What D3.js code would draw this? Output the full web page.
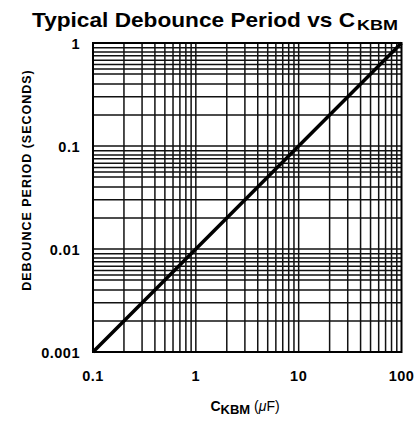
<!DOCTYPE html>
<html>
<head>
<meta charset="utf-8">
<script src="https://cdn.jsdelivr.net/npm/d3@7"></script>
<style>
  body { margin: 0; background: #fff; }
  svg { display: block; }
  text { font-family: "Liberation Sans", Arial, sans-serif; font-weight: bold; fill: #000; }
</style>
</head>
<body>
<div id="chart"></div>
<script>
// debounce line (capacitance in uF, period in s)
const capacitance = [0.1, 1, 10, 100];
const period = [0.001, 0.01, 0.1, 1];

const xTicks = [0.1, 1, 10, 100];
const xTickLabels = ["0.1", "1", "10", "100"];
const yTicks = [0.001, 0.01, 0.1, 1];
const yTickLabels = ["0.001", "0.01", "0.1", "1"];

// grid multipliers inside each decade
const xGridMult = [1, 2, 3, 4, 5, 6, 7, 8, 9];
const yGridMult = [1, 2, 3, 4, 5, 5.6, 6.2, 6.8, 7.5, 8.2, 9];

const width = 418, height = 423;
const margin = { top: 43, right: 16.5, bottom: 71, left: 93 };

const svg = d3.select("#chart")
    .append("svg")
    .attr("width", width)
    .attr("height", height);

const x = d3.scaleLog()
    .domain([0.1, 100])
    .range([margin.left, width - margin.right]);

const y = d3.scaleLog()
    .domain([0.001, 1])
    .range([height - margin.bottom, margin.top]);

// grid values built from decades x multipliers
const xGrid = [];
[0.1, 1, 10].forEach(d => xGridMult.forEach(m => xGrid.push(d * m)));
const yGrid = [];
[0.001, 0.01, 0.1].forEach(d => yGridMult.forEach(m => yGrid.push(d * m)));

const grid = svg.append("g");

grid.selectAll(".vgrid")
    .data(xGrid)
    .enter()
    .append("line")
    .attr("x1", d => x(d))
    .attr("x2", d => x(d))
    .attr("y1", y(1))
    .attr("y2", y(0.001))
    .attr("stroke", "#111")
    .attr("stroke-width", 1.5);

grid.selectAll(".hgrid")
    .data(yGrid)
    .enter()
    .append("line")
    .attr("x1", x(0.1))
    .attr("x2", x(100))
    .attr("y1", d => y(d))
    .attr("y2", d => y(d))
    .attr("stroke", "#111")
    .attr("stroke-width", 1.5);

// frame
svg.append("rect")
    .attr("x", x(0.1))
    .attr("y", y(1))
    .attr("width", x(100) - x(0.1))
    .attr("height", y(0.001) - y(1))
    .attr("fill", "none")
    .attr("stroke", "#000")
    .attr("stroke-width", 2);

// data line
const line = d3.line()
    .x((d, i) => x(capacitance[i]))
    .y(d => y(d));

svg.append("path")
    .datum(period)
    .attr("d", line)
    .attr("fill", "none")
    .attr("stroke", "#000")
    .attr("stroke-width", 3.5);

// tick labels
svg.selectAll(".xlab")
    .data(xTicks)
    .enter()
    .append("text")
    .attr("x", d => x(d))
    .attr("y", 381)
    .attr("text-anchor", "middle")
    .style("font-size", "14.5px")
    .style("letter-spacing", "0.5px")
    .text((d, i) => xTickLabels[i]);

svg.selectAll(".ylab")
    .data(yTicks)
    .enter()
    .append("text")
    .attr("x", 80)
    .attr("y", d => y(d) + 5.5)
    .attr("text-anchor", "end")
    .style("font-size", "14.5px")
    .style("letter-spacing", "0.5px")
    .text((d, i) => yTickLabels[i]);

// title
svg.append("text")
    .attr("x", 32)
    .attr("y", 27)
    .attr("textLength", 323)
    .attr("lengthAdjust", "spacingAndGlyphs")
    .style("font-size", "20.5px")
    .text("Typical Debounce Period vs C");
svg.append("text")
    .attr("x", 357)
    .attr("y", 30)
    .attr("textLength", 41)
    .attr("lengthAdjust", "spacingAndGlyphs")
    .style("font-size", "14px")
    .text("KBM");

// x axis title
const xt = svg.append("text")
    .attr("x", 245)
    .attr("y", 411)
    .attr("text-anchor", "middle")
    .style("font-size", "14px");
xt.append("tspan").text("C");
xt.append("tspan").attr("dy", 3).style("font-size", "13px").text("KBM");
xt.append("tspan").attr("dy", -3).style("font-weight", "normal").text(" (");
xt.append("tspan").style("font-style", "italic").style("font-weight", "normal").text("\u03bc");
xt.append("tspan").style("font-weight", "normal").text("F)");

// y axis title
svg.append("text")
    .attr("transform", "translate(31,180) rotate(-90)")
    .attr("text-anchor", "middle")
    .style("font-size", "12.5px")
    .style("letter-spacing", "1px")
    .text("DEBOUNCE PERIOD (SECONDS)");
</script>
</body>
</html>
